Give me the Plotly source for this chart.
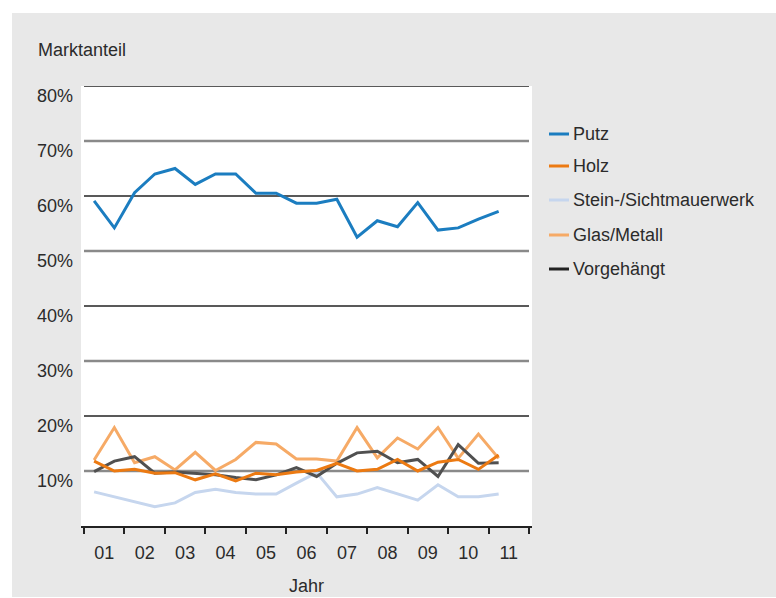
import plotly.graph_objects as go

# ---------------- data ----------------
periods = [0.25, 0.75, 1.25, 1.75, 2.25, 2.75, 3.25, 3.75, 4.25, 4.75, 5.25,
           5.75, 6.25, 6.75, 7.25, 7.75, 8.25, 8.75, 9.25, 9.75, 10.25]
year_labels = ["01", "02", "03", "04", "05", "06", "07", "08", "09", "10", "11"]
year_label_pos = [0.5, 1.5, 2.5, 3.5, 4.5, 5.5, 6.5, 7.5, 8.5, 9.5, 10.5]
year_bounds = [0, 1, 2, 3, 4, 5, 6, 7, 8, 9, 10, 11]
y_ticks = [10, 20, 30, 40, 50, 60, 70, 80]
y_tick_labels = ["10%", "20%", "30%", "40%", "50%", "60%", "70%", "80%"]

putz = [59.1, 54.2, 60.6, 64.0, 65.0, 62.1, 64.0, 64.0, 60.5, 60.5, 58.7,
        58.7, 59.4, 52.5, 55.5, 54.4, 58.8, 53.8, 54.2, 55.8, 57.2]
holz = [11.8, 10.0, 10.3, 9.6, 9.7, 8.4, 9.5, 8.2, 9.6, 9.3, 9.8,
        10.1, 11.4, 10.0, 10.3, 12.1, 10.0, 11.6, 12.1, 10.3, 12.9]
stein = [6.2, 5.3, 4.5, 3.5, 4.2, 6.1, 6.7, 6.1, 5.8, 5.8, 7.8,
         9.7, 5.3, 5.8, 7.0, 5.8, 4.7, 7.5, 5.3, 5.3, 5.8]
glas = [12.0, 17.9, 11.5, 12.6, 10.2, 13.4, 10.1, 12.1, 15.2, 14.9, 12.2,
        12.2, 11.8, 17.9, 12.4, 16.0, 14.0, 17.9, 12.3, 16.7, 12.3]
vorgehaengt = [9.9, 11.8, 12.6, 9.6, 9.8, 9.5, 9.3, 8.8, 8.4, 9.3, 10.6,
               9.0, 11.4, 13.3, 13.6, 11.5, 12.1, 9.0, 14.8, 11.4, 11.5]

series_names = ["Putz", "Holz", "Stein-/Sichtmauerwerk", "Glas/Metall", "Vorgehängt"]
series_values = [putz, holz, stein, glas, vorgehaengt]
series_colors = ["#1b7dc0", "#ec7a12", "#c6d6ee", "#f6aa66", "#505050"]
legend_colors = ["#1b7dc0", "#ec7a12", "#c6d6ee", "#f6aa66", "#222222"]
draw_order = [2, 3, 4, 1, 0]

# ---------------- layout geometry (pixels) ----------------
W, H = 776, 598
PL, PR, PT, PB = 81, 532, 86, 526  # plot area box
FONT = "Liberation Sans, Arial, sans-serif"
TXT = "#2b2b2b"


def px_x(px):
    return (px - PL) / (PR - PL)


def px_y(py):
    return (PB - py) / (PB - PT)


fig = go.Figure()
for i in draw_order:
    fig.add_trace(go.Scatter(
        x=periods, y=series_values[i], mode="lines", name=series_names[i],
        line=dict(color=series_colors[i], width=3), showlegend=False,
        hoverinfo="skip"))

shapes = []
# grey panel and white plot box
shapes.append(dict(type="rect", xref="paper", yref="paper", layer="below",
                   x0=px_x(12), x1=px_x(W + 2), y0=px_y(597), y1=px_y(13),
                   fillcolor="#e8e8e8", line=dict(width=0)))
shapes.append(dict(type="rect", xref="paper", yref="paper", layer="below",
                   x0=0, x1=1, y0=0, y1=1, fillcolor="#ffffff",
                   line=dict(width=0)))
# alternating gridlines
for v in y_ticks:
    dark = (v // 10) % 2 == 0
    shapes.append(dict(type="line", xref="x", yref="y", layer="below",
                       x0=year_bounds[0], x1=year_bounds[-1], y0=v, y1=v,
                       line=dict(color="#222222" if dark else "#8a8a8a",
                                 width=1.4 if dark else 2.4)))

annotations = []
# custom legend
leg_y = [134, 166, 200, 235, 269]
for name, col, ly in zip(series_names, legend_colors, leg_y):
    shapes.append(dict(type="line", xref="paper", yref="paper",
                       x0=px_x(549), x1=px_x(569), y0=px_y(ly), y1=px_y(ly),
                       line=dict(color=col, width=3)))
    annotations.append(dict(xref="paper", yref="paper", x=px_x(571), y=px_y(ly),
                            text=name, showarrow=False, xanchor="left",
                            yanchor="middle",
                            font=dict(family=FONT, size=18, color=TXT)))

annotations.append(dict(xref="paper", yref="paper", x=px_x(36), y=px_y(50),
                        text="Marktanteil", showarrow=False, xanchor="left",
                        yanchor="middle", font=dict(family=FONT, size=18, color=TXT)))
annotations.append(dict(xref="paper", yref="paper", x=px_x(306), y=px_y(586),
                        text="Jahr", showarrow=False, xanchor="center",
                        yanchor="middle", font=dict(family=FONT, size=18, color=TXT)))

unit = (529 - 84) / 11.0
fig.update_layout(
    width=W, height=H,
    margin=dict(l=PL, r=W - PR, t=PT, b=H - PB, pad=0),
    paper_bgcolor="#ffffff", plot_bgcolor="rgba(0,0,0,0)",
    shapes=shapes, annotations=annotations,
    font=dict(family=FONT, size=18, color=TXT),
    xaxis=dict(range=[-(84 - PL) / unit, 11 + (PR - 529) / unit],
               tickmode="array", tickvals=year_label_pos, ticktext=year_labels,
               ticks="", showgrid=False, zeroline=False,
               showline=True, linecolor="#222222", linewidth=1.5,
               ticklabelstandoff=10,
               tickfont=dict(family=FONT, size=18, color=TXT),
               minor=dict(tickmode="array", tickvals=year_bounds,
                          ticks="outside", ticklen=6, tickwidth=1.5,
                          tickcolor="#222222", showgrid=False),
               fixedrange=True),
    yaxis=dict(range=[0, 80], tickmode="array", tickvals=y_ticks,
               ticktext=y_tick_labels, ticks="", showgrid=False,
               zeroline=False, showline=False, ticklabelshift=10,
               ticklabelstandoff=7,
               tickfont=dict(family=FONT, size=18, color=TXT),
               fixedrange=True),
)

fig.write_html("out.html")
